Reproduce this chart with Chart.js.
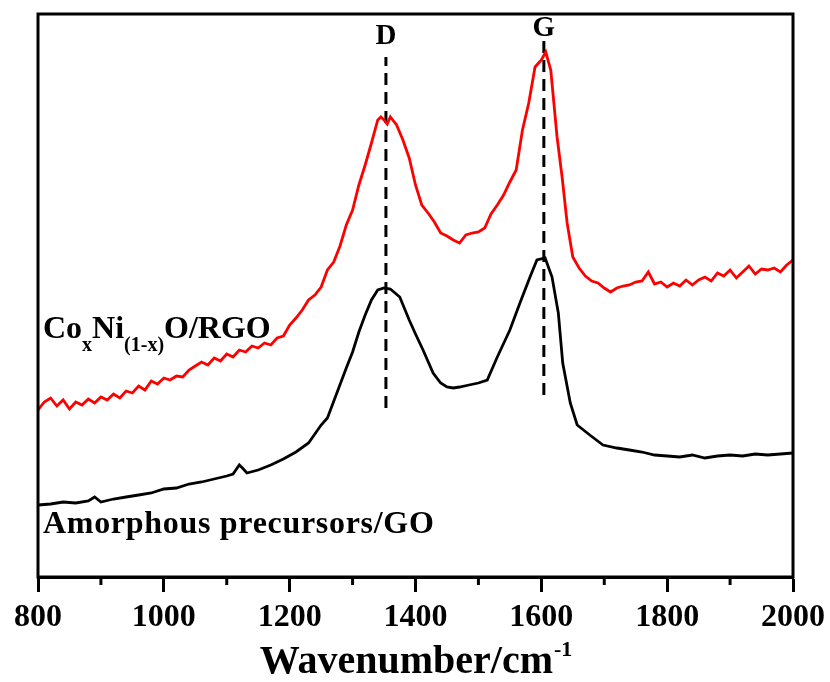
<!DOCTYPE html>
<html lang="en">
<head>
    <meta charset="UTF-8">
    <title>Raman spectra</title>
    <script src="https://cdn.jsdelivr.net/npm/chart.js"></script>
    <style>
        body { margin: 0; background: #fff; }
        #wrap { width: 830px; height: 682px; }
    </style>
</head>
<body>
    <div id="wrap"><canvas id="ramanChart" width="830" height="682"></canvas></div>

    <script>
        // CoxNi(1-x)O/RGO (red)
        const waveRed = [800, 810, 820, 830, 840, 850, 860, 870, 880, 890, 900, 910, 920, 930, 940, 950, 960, 970, 980, 990,
            1000, 1010, 1020, 1030, 1040, 1050, 1060, 1070, 1080, 1090, 1100, 1110, 1120, 1130, 1140, 1150, 1160, 1170, 1180, 1190,
            1200, 1210, 1220, 1230, 1240, 1250, 1260, 1270, 1280, 1290, 1300, 1310, 1320, 1330, 1340, 1345, 1350, 1355, 1360, 1370,
            1380, 1390, 1400, 1410, 1420, 1430, 1440, 1450, 1460, 1470, 1480, 1490, 1500, 1510, 1520, 1530, 1540, 1550, 1560, 1570,
            1580, 1590, 1600, 1607, 1615, 1625, 1633, 1641, 1650, 1660, 1670, 1680, 1690, 1700, 1710, 1720, 1730, 1740, 1750, 1760,
            1770, 1780, 1790, 1800, 1810, 1820, 1830, 1840, 1850, 1860, 1870, 1880, 1890, 1900, 1910, 1920, 1930, 1940, 1950, 1960,
            1970, 1980, 1990, 2000];
        const intRed = [167, 175, 179, 171, 177, 168, 175, 172, 178, 174, 180, 177, 183, 179, 186, 184, 191, 187, 196, 193,
            199, 197, 201, 200, 207, 211, 215, 212, 219, 216, 223, 220, 227, 225, 231, 229, 234, 232, 239, 241,
            252, 259, 267, 277, 282, 290, 307, 315, 331, 352, 367, 392, 412, 434, 457, 460, 457, 453, 460, 452,
            437, 419, 392, 372, 364, 355, 344, 341, 337, 334, 342, 344, 345, 349, 363, 372, 382, 395, 407, 447,
            474, 510, 517, 525, 507, 440, 400, 354, 320, 309, 301, 296, 294, 289, 285, 289, 291, 292, 295, 296,
            305, 293, 295, 290, 294, 291, 297, 292, 297, 300, 296, 304, 301, 307, 299, 305, 311, 303, 308, 307,
            309, 305, 312, 317];

        // Amorphous precursors/GO (black)
        const waveBlack = [800, 820, 840, 860, 880, 890, 900, 920, 940, 960, 980, 1000, 1020, 1040, 1060, 1080, 1100, 1110, 1120, 1125,
            1132, 1150, 1170, 1190, 1210, 1230, 1250, 1260, 1275, 1290, 1300, 1310, 1320, 1330, 1340, 1350, 1360, 1375, 1390, 1400,
            1412, 1428, 1440, 1450, 1460, 1470, 1485, 1500, 1514, 1530, 1550, 1566, 1582, 1593, 1606, 1617, 1627, 1634, 1646, 1657,
            1677, 1698, 1720, 1740, 1760, 1780, 1800, 1820, 1840, 1860, 1880, 1900, 1920, 1940, 1960, 1980, 2000];
        const intBlack = [72, 73, 75, 74, 76, 80, 75, 78, 80, 82, 84, 88, 89, 93, 95, 98, 101, 103, 112, 109,
            104, 107, 112, 118, 125, 134, 152, 159, 184, 209, 225, 245, 262, 277, 287, 289, 288, 280, 257, 243,
            227, 204, 194, 190, 189, 190, 192, 194, 197, 220, 247, 274, 300, 317, 319, 300, 264, 214, 174, 152,
            142, 132, 129, 127, 125, 122, 121, 120, 122, 119, 121, 122, 121, 123, 122, 123, 124];

        // dashed guide lines for the D and G bands
        const bandNames = ['D', 'G'];
        const bandPos = [1353, 1604];
        const bandLow = [169, 182];
        const bandHigh = [520, 537];

        const xTicks = [800, 1000, 1200, 1400, 1600, 1800, 2000];
        const xMinor = [900, 1100, 1300, 1500, 1700, 1900];

        const serif = '"Liberation Serif", "Times New Roman", serif';

        function toPoints(xs, ys) {
            return xs.map((x, i) => ({ x: x, y: ys[i] }));
        }

        const bandSets = bandPos.map((p, i) => ({
            label: bandNames[i],
            data: [{ x: p, y: bandLow[i] }, { x: p, y: bandHigh[i] }],
            borderColor: '#000',
            borderWidth: 3,
            borderDash: [12, 7],
            pointRadius: 0
        }));

        // frame, minor ticks and all the text
        const decor = {
            id: 'decor',
            afterDraw(chart) {
                const ctx = chart.ctx;
                const a = chart.chartArea;
                const xs = chart.scales.x;
                const ys = chart.scales.y;
                ctx.save();
                ctx.strokeStyle = '#000';
                ctx.lineWidth = 3;
                ctx.strokeRect(a.left, a.top, a.right - a.left, a.bottom - a.top);

                xMinor.forEach(v => {
                    const px = xs.getPixelForValue(v);
                    ctx.beginPath();
                    ctx.moveTo(px, a.bottom);
                    ctx.lineTo(px, a.bottom + 8);
                    ctx.stroke();
                });

                ctx.fillStyle = '#000';
                ctx.textAlign = 'center';
                ctx.textBaseline = 'middle';
                ctx.font = 'bold 29px ' + serif;
                ctx.fillText('D', xs.getPixelForValue(bandPos[0]), ys.getPixelForValue(540));
                ctx.fillText('G', xs.getPixelForValue(bandPos[1]), ys.getPixelForValue(548));

                // sample labels
                ctx.textAlign = 'left';
                ctx.textBaseline = 'alphabetic';
                let x = a.left + 5;
                let base = ys.getPixelForValue(239);
                const parts = [['Co', 32, 0], ['x', 20, 13], ['Ni', 32, 0], ['(1-x)', 20, 13], ['O/RGO', 32, 0]];
                parts.forEach(p => {
                    ctx.font = 'bold ' + p[1] + 'px ' + serif;
                    ctx.fillText(p[0], x, base + p[2]);
                    x += ctx.measureText(p[0]).width;
                });

                ctx.font = 'bold 32px ' + serif;
                ctx.letterSpacing = '0.7px';
                ctx.fillText('Amorphous precursors/GO', a.left + 5, ys.getPixelForValue(44));
                ctx.letterSpacing = '0px';

                // axis title with superscript
                ctx.font = 'bold 40px ' + serif;
                const main = 'Wavenumber/cm';
                const wMain = ctx.measureText(main).width;
                ctx.font = 'bold 22px ' + serif;
                const wSup = ctx.measureText('-1').width;
                const cx = (a.left + a.right) / 2;
                const startX = cx - (wMain + wSup) / 2;
                ctx.font = 'bold 40px ' + serif;
                ctx.fillText(main, startX, 673);
                ctx.font = 'bold 22px ' + serif;
                ctx.fillText('-1', startX + wMain + 1, 656);
                ctx.restore();
            }
        };

        const ctx = document.getElementById('ramanChart').getContext('2d');
        new Chart(ctx, {
            type: 'line',
            data: {
                datasets: [
                    {
                        label: 'CoxNi(1-x)O/RGO',
                        data: toPoints(waveRed, intRed),
                        borderColor: '#ff0000',
                        borderWidth: 2.8,
                        pointRadius: 0
                    },
                    {
                        label: 'Amorphous precursors/GO',
                        data: toPoints(waveBlack, intBlack),
                        borderColor: '#000',
                        borderWidth: 2.8,
                        pointRadius: 0
                    }
                ].concat(bandSets)
            },
            options: {
                responsive: false,
                animation: false,
                layout: { padding: { left: 38, right: 37, top: 14, bottom: 0 } },
                plugins: { legend: { display: false }, tooltip: { enabled: false } },
                scales: {
                    x: {
                        type: 'linear',
                        min: 800,
                        max: 2000,
                        afterBuildTicks: (scale) => { scale.ticks = xTicks.map(v => ({ value: v })); },
                        afterFit: (scale) => {
                            scale.height = 105;
                            scale.paddingLeft = 0;
                            scale.paddingRight = 0;
                        },
                        grid: { drawOnChartArea: false, tickLength: 15, tickWidth: 3, tickColor: '#000' },
                        border: { display: true, color: '#000', width: 3 },
                        ticks: {
                            padding: 7,
                            color: '#000',
                            maxRotation: 0,
                            callback: (v) => String(v),
                            font: { family: serif, size: 32, weight: 'bold' }
                        }
                    },
                    y: {
                        display: false,
                        min: 0,
                        max: 563
                    }
                }
            },
            plugins: [decor]
        });
    </script>
</body>
</html>
